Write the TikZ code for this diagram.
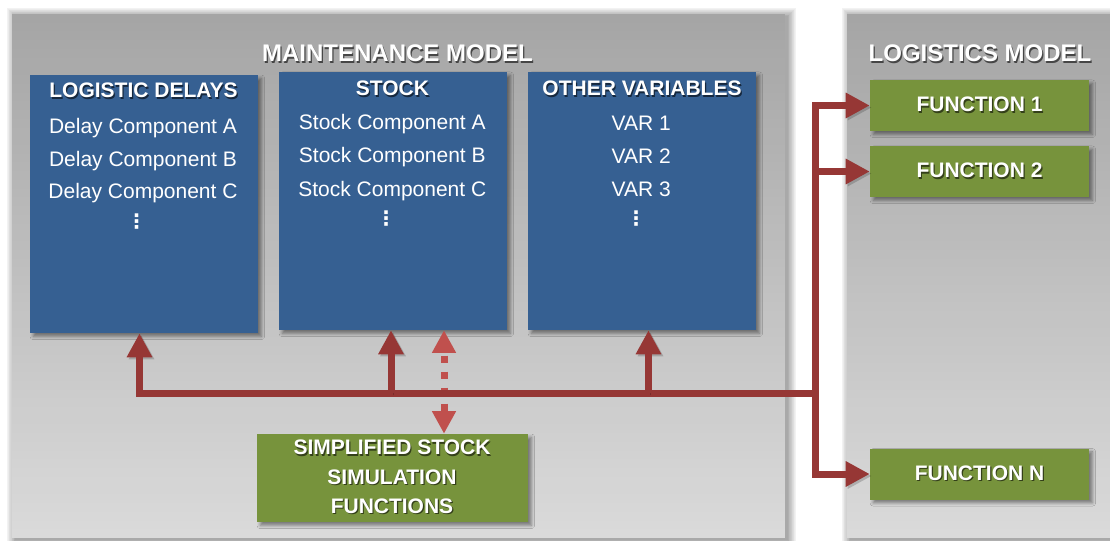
\documentclass[tikz,border=0pt]{standalone}
\usepackage{fontspec}
\setmainfont{Liberation Sans}
\newfontfamily\symfont{DejaVu Sans}
\usetikzlibrary{arrows.meta,shadows.blur,calc}

\definecolor{panelTop}{RGB}{165,165,165}
\definecolor{panelBot}{RGB}{218,218,218}
\definecolor{boxblue}{RGB}{54,96,146}
\definecolor{boxgreen}{RGB}{119,147,60}
\definecolor{linkred}{RGB}{150,55,53}
\definecolor{dashred}{RGB}{192,80,77}
\definecolor{shGray}{RGB}{70,70,70}
\definecolor{shBlue}{RGB}{22,40,62}
\definecolor{shGreen}{RGB}{52,64,26}

% white lettering with a small dark drop shadow
\newcommand\shd[2]{\leavevmode\rlap{\kern0.9pt\raisebox{-0.9pt}{\textcolor{#1}{#2}}}#2}
\newcommand\itemfont{\fontsize{15.75pt}{18pt}\selectfont}
\newcommand\headfont{\fontsize{15.75pt}{18pt}\selectfont\bfseries}
\newcommand\titlefont{\fontsize{18pt}{21pt}\selectfont\bfseries}
\newcommand\dotfont{\symfont\bfseries\fontsize{15pt}{17pt}\selectfont}

% panel: soft shadow (opaque rings, outer ones lighter) plus a vertical
% gradient built from thin bands
% #1,#2 = top-left corner, #3,#4 = bottom-right corner (px units)
\newcommand\gradpanel[4]{%
  \foreach \i in {12,11,...,0}{
    \pgfmathsetmacro\dk{2.6*(13-\i)}
    \fill[black!\dk!white]
      (#1+3-0.7*\i,#2+2-0.7*\i) rectangle (#3+3+0.7*\i,#4+2+0.7*\i);
  }
  \foreach \k in {0,...,59}{
    \pgfmathsetmacro\pc{100*\k/59}
    \pgfmathsetmacro\ya{#2+(#4-#2)/60*\k}
    \pgfmathsetmacro\yb{min(#2+(#4-#2)/60*(\k+1)+0.6,#4)}
    \fill[panelBot!\pc!panelTop] (#1,\ya) rectangle (#3,\yb);
  }
}

\begin{document}
\begin{tikzpicture}[x=0.75pt,y=-0.75pt,
  panel/.style={inner sep=0pt},
  bluebox/.style={inner sep=0pt, fill=boxblue, minimum width=171pt, minimum height=193.5pt,
    blur shadow={shadow xshift=2.5pt, shadow yshift=-2.5pt, shadow blur radius=2.5pt, shadow opacity=45}},
  greenbox/.style={inner sep=0pt, fill=boxgreen,
    blur shadow={shadow xshift=2.5pt, shadow yshift=-2.5pt, shadow blur radius=2.5pt, shadow opacity=45}},
  funcbox/.style={greenbox, minimum width=164.25pt, minimum height=38.25pt},
  txt/.style={text=white, inner sep=0pt, anchor=base},
  link/.style={draw=linkred, line width=5.25pt, line join=miter,
    -{Triangle[length=18pt,width=18pt]},
    preaction={draw=black, opacity=.18, transform canvas={shift={(1.5pt,-1.5pt)}}}},
  dlink/.style={draw=dashred, line width=5.25pt,
    {Triangle[length=17pt,width=17pt]}-{Triangle[length=17pt,width=17pt]},
    dash pattern=on 5.5pt off 6.5pt, dash phase=-3pt}
]
\fill[white] (0,0) rectangle (1110,541);
\useasboundingbox (0,0) rectangle (1110,541);

% the two model panels
\gradpanel{12}{14}{785}{538}
\gradpanel{847}{14}{1130}{538}
\node[panel, minimum width=579.75pt, minimum height=393pt] (maint) at (398.5,276) {};
\node[panel, minimum width=212.25pt, minimum height=393pt] (logm) at (988.5,276) {};
\node[txt, font=\titlefont] (mtitle) at (397.5,62) {\shd{shGray}{MAINTENANCE MODEL}};
\node[txt, font=\titlefont] (ltitle) at (980,62) {\shd{shGray}{LOGISTICS MODEL}};

% maintenance model blocks
\node[bluebox] (delays) at (144,204) {};
\node[bluebox] (stock) at (393,201) {};
\node[bluebox] (other) at (642,201) {};

\node[txt, font=\headfont] (dh) at (143.5,98) {\shd{shBlue}{LOGISTIC DELAYS}};
\node[txt, font=\itemfont] (da) at (143,134) {Delay Component A};
\node[txt, font=\itemfont] (db) at (143,167) {Delay Component B};
\node[txt, font=\itemfont] (dc) at (143,199) {Delay Component C};
\node[txt, font=\dotfont] (dd) at (136.7,229) {⋮};

\node[txt, font=\headfont] (sh) at (392.5,96) {\shd{shBlue}{STOCK}};
\node[txt, font=\itemfont] (sa) at (392.3,130) {Stock Component A};
\node[txt, font=\itemfont] (sb) at (392.3,163) {Stock Component B};
\node[txt, font=\itemfont] (sc) at (392.3,197) {Stock Component C};
\node[txt, font=\dotfont] (sd) at (386,226) {⋮};

\node[txt, font=\headfont] (oh) at (642,96) {\shd{shBlue}{OTHER VARIABLES}};
\node[txt, font=\itemfont] (v1) at (641.3,131) {VAR 1};
\node[txt, font=\itemfont] (v2) at (641.3,164) {VAR 2};
\node[txt, font=\itemfont] (v3) at (641.3,197) {VAR 3};
\node[txt, font=\dotfont] (vd) at (636,226) {⋮};

\node[greenbox, minimum width=203.25pt, minimum height=66pt] (sim) at (392.5,478) {};
\node[txt, font=\headfont] (sim1) at (392,455) {\shd{shGreen}{SIMPLIFIED STOCK}};
\node[txt, font=\headfont] (sim2) at (392,484) {\shd{shGreen}{SIMULATION}};
\node[txt, font=\headfont] (sim3) at (392,513) {\shd{shGreen}{FUNCTIONS}};

% logistics model functions
\node[funcbox] (f1) at (979.5,105.5) {};
\node[funcbox] (f2) at (979.5,171.5) {};
\node[funcbox] (fn) at (979.5,474) {};
\node[txt, font=\headfont] (f1t) at (979.5,112) {\shd{shGreen}{FUNCTION 1}};
\node[txt, font=\headfont] (f2t) at (979.5,178) {\shd{shGreen}{FUNCTION 2}};
\node[txt, font=\headfont] (fnt) at (979.5,480.5) {\shd{shGreen}{FUNCTION N}};

% connectors
\coordinate (busW) at (139.5,393.5);
\coordinate (busE) at (815,393.5);
\coordinate (b2) at (391,393.5);
\coordinate (b3) at (648.5,393.5);
\coordinate (dx) at (444,393.5);

\draw[dlink] (dx |- stock.south) -- (dx |- sim.north);
\draw[link] (busE) -- (busW) -- (busW |- delays.south);
\draw[link] (b2) -- (b2 |- stock.south);
\draw[link] (b3) -- (b3 |- other.south);
\draw[link] (busE) |- (f1.west);
\draw[link] (busE) |- (f2.west);
\draw[link] (busE) |- (fn.west);
\end{tikzpicture}
\end{document}
